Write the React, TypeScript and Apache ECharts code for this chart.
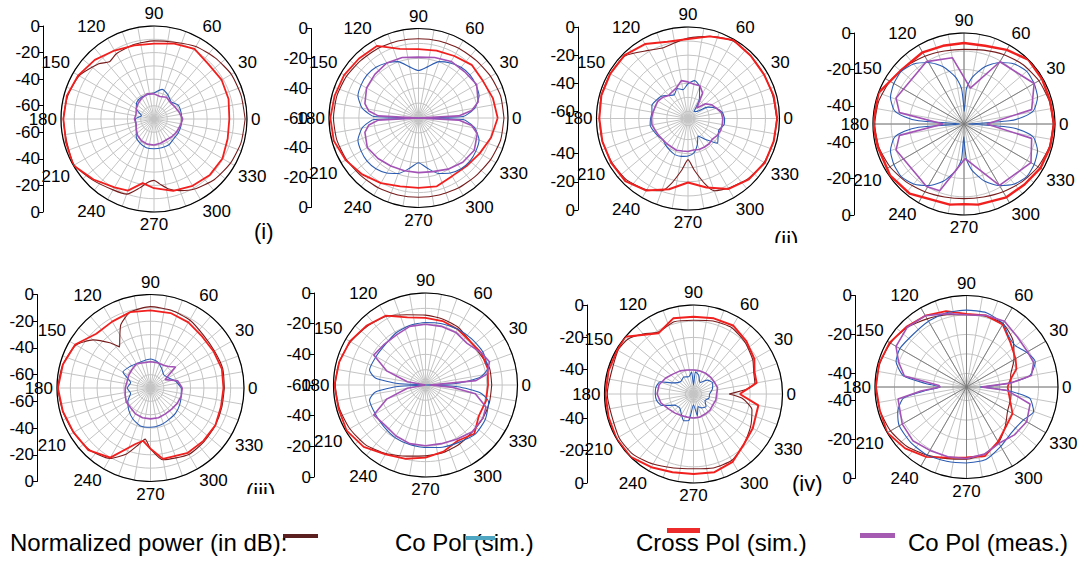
import React, { useEffect, useRef } from "react";
import * as echarts from "echarts";

const FONT = '"Liberation Sans", Arial, Helvetica, sans-serif';

// ---------- tick labels ----------
const ANGLE_LABELS = [0, 30, 60, 90, 120, 150, 180, 210, 240, 270, 300, 330];
const RADIAL_LABELS = [0, -20, -40, -60];
const PANEL_TAGS = ["(i)", "(ii)", "(iii)", "(iv)"];
const LEGEND_TITLE = "Normalized power (in dB):";
const LEGEND_NAMES = ["Co Pol (sim.)", "Cross Pol (sim.)", "Co Pol (meas.)"];

// ---------- common angle grids (deg) ----------
const ANG15 = [0, 15, 30, 45, 60, 75, 90, 105, 120, 135, 150, 165, 180, 195, 210, 225, 240, 255, 270, 285, 300, 315, 330, 345];
const ANG10 = [0, 10, 20, 30, 40, 50, 60, 70, 80, 90, 100, 110, 120, 130, 140, 150, 160, 170, 180, 190, 200, 210, 220, 230, 240, 250, 260, 270, 280, 290, 300, 310, 320, 330, 340, 350];

// ---------- panel 1 (dB) ----------
const p1MaroonAng = [0, 15, 30, 45, 60, 75, 90, 105, 120, 128, 135, 150, 165, 180, 195, 210, 225, 240, 250, 258, 265, 270, 275, 282, 290, 300, 315, 330, 345];
const p1MaroonDb = [-1.4, -2.1, -2.8, -4.9, -7, -10.2, -11.2, -11.9, -13.3, -15.4, -11.2, -4.9, -2.8, -1.8, -2.1, -0.7, -4.9, -8.4, -9.8, -16.8, -22.4, -23.8, -21, -16.1, -12.6, -9.1, -5.6, -3.5, -2.1];
const p1RedAng = [0, 15, 30, 45, 60, 75, 90, 105, 120, 135, 150, 165, 180, 195, 210, 225, 240, 250, 260, 270, 285, 300, 315, 330, 345];
const p1RedDb = [-13.3, -11.9, -11.2, -11.9, -9.1, -11.2, -13.3, -12.6, -10.5, -7, -4.2, -2.1, -1.8, -1.4, 0, -5.6, -10.5, -12.6, -21, -17.9, -14, -11.9, -10.5, -10.5, -12.6];
const p1BlueDb = [-49, -49, -49, -51.8, -49, -46.9, -50.4, -51.1, -51.1, -51.8, -54.6, -60.2, -56, -56, -54.6, -51.1, -49, -47.6, -47.6, -47.6, -47.6, -49, -49, -49];
const p1PurpleDb = [-48.3, -50.4, -51.8, -52.5, -51.1, -52.5, -51.1, -50.4, -51.8, -53.2, -54.6, -56, -55.3, -56, -54.6, -52.5, -51.1, -50.4, -50.4, -51.1, -51.8, -51.1, -50.4, -49.7];

// ---------- panel 2 ----------
const p2MaroonDb = [-2.7, -3, -4.2, -5.4, -6, -6.6, -6.9, -6.6, -6, -5.4, -4.2, -3.3, -3, -3.3, -4.2, -5.4, -6, -6.6, -6.9, -6.6, -6, -5.4, -4.2, -3];
const p2RedDb = [-6.9, -8.4, -10.2, -9.6, -12, -13.2, -13.8, -12, -4.2, -3.6, -2.4, -1.8, -0.9, -1.2, -3.6, -6.6, -9.6, -12.6, -13.2, -12.6, -15, -14.4, -12.6, -9.6];
const p2BlueAng = [0, 2, 5, 10, 20, 30, 40, 50, 60, 70, 80, 90, 100, 110, 120, 130, 140, 150, 160, 170, 175, 178, 180, 182, 185, 190, 200, 210, 220, 230, 240, 250, 260, 270, 280, 290, 300, 310, 320, 330, 340, 350, 355, 358];
const p2BlueDb = [-60, -30, -26.4, -21.6, -16.8, -15.6, -15, -15.6, -17.4, -19.8, -25.2, -28.2, -25.2, -19.8, -17.4, -15.6, -15, -15.6, -16.8, -21.6, -26.4, -30, -60, -30, -26.4, -21.6, -16.8, -15.6, -15, -15.6, -17.4, -20.4, -25.8, -30, -25.8, -20.4, -17.4, -15.6, -15, -15.6, -16.8, -21.6, -26.4, -30];
const p2PurpleAng = [0, 3, 8, 15, 30, 45, 60, 75, 90, 105, 120, 135, 150, 165, 172, 177, 180, 183, 188, 195, 210, 225, 240, 255, 270, 285, 300, 315, 330, 345, 352, 357];
const p2PurpleDb = [-60, -33, -24, -18.6, -15, -16.2, -16.2, -18, -19.2, -18, -17.4, -18.6, -19.8, -22.8, -26.4, -33, -60, -33, -26.4, -22.8, -20.4, -21.6, -22.8, -23.4, -23.4, -22.8, -20.4, -18, -16.8, -19.2, -24, -33];

// ---------- panel 3 ----------
const p3MaroonAng = [0, 15, 30, 45, 60, 75, 90, 100, 110, 120, 135, 150, 165, 180, 195, 210, 225, 240, 250, 255, 263, 270, 277, 285, 290, 300, 315, 330, 345];
const p3MaroonDb = [-2, -2.6, -2.6, -2, -1.3, -4.6, -7.8, -10.4, -11.7, -9.1, -2, -1.3, -1.3, -2, -2, -2.6, -3.3, -6.5, -10.4, -16.3, -28, -35.8, -28, -16.3, -10.4, -7.8, -4.6, -2.6, -2];
const p3RedDb = [-1.6, -2, -2.6, -2, -0.7, -4.6, -8.5, -8.5, -3.9, -1.3, -1.3, -1.3, -2, -2, -2, -2, -5.9, -13, -19.5, -14.3, -7.2, -3.9, -2, -2];
const p3BlueDb = [-39, -40.3, -43.6, -48.8, -57.2, -58.5, -48.8, -41, -37.7, -40.3, -44.2, -42.3, -45.5, -43.6, -40.3, -39, -37.7, -39, -38.4, -37.7, -39, -40.3, -41.6, -40.3, -39, -37.7, -37.7, -38.4, -40.3, -45.5, -50.7, -45.5, -37.7, -40.3, -41.6, -39];
const p3PurpleDb = [-40.3, -41, -43.6, -45.5, -48.8, -55.3, -44.2, -40.3, -40.3, -39, -37.7, -41.6, -42.9, -43.6, -41.6, -40.3, -40.3, -39.7, -39, -39, -40.3, -41, -41.6, -41.6, -41.6, -41, -41.6, -41.6, -42.3, -41.6, -41.6, -41.6, -42.3, -41, -40.3, -40.3];

// ---------- panel 4 ----------
const p4MaroonDb = [-1, -1.5, -2.5, -4, -6, -8, -9, -8.5, -7, -5, -3, -1.5, -1, -1.5, -3, -5, -7, -8.5, -9, -8.5, -7, -5, -3, -1.5];
const p4RedAng = [0, 15, 30, 45, 60, 75, 90, 105, 120, 140, 160, 180, 195, 215, 232, 260, 270, 280, 300, 315, 330, 345];
const p4RedDb = [-0.5, -1, -0.5, 0, -3, -5.5, -5.5, -5.5, -4.5, -4.5, 0, 0, -1, -0.5, -1.5, -5, -6, -5, -3.5, -3, -1.5, -1];
const p4BlueAng = [0, 4, 7, 11, 20, 30, 40, 50, 60, 70, 80, 86, 89, 91, 94, 100, 110, 120, 130, 140, 150, 160, 169, 173, 176, 180, 184, 187, 191, 200, 210, 220, 230, 240, 250, 260, 266, 269, 271, 274, 280, 290, 300, 310, 320, 330, 340, 349, 353, 356];
const p4BlueDb = [-47.5, -25, -17, -11, -7, -5.5, -5, -7, -11, -16.5, -24, -30.5, -43, -43, -30.5, -24, -16.5, -11, -7, -5, -5.5, -7, -11, -17, -25, -47.5, -25, -17, -11, -7, -5.5, -5, -7, -11, -16.5, -24, -30.5, -43, -43, -30.5, -24, -16.5, -11, -7, -5, -5.5, -7, -11, -17, -25];
const p4PurpleAng = [0, 12, 30, 60, 80, 100, 121, 159, 170, 180, 190, 201, 239, 250, 272, 300, 330, 348];
const p4PurpleDb = [-37.5, -12, -5.5, -10.5, -30, -13, -10, -10, -14, -38.5, -14, -10, -10, -11, -31, -11, -7.5, -12];

// ---------- panel 5 ----------
const p5MaroonAng = [0, 15, 30, 45, 60, 75, 90, 105, 115, 122, 127, 132, 140, 150, 165, 180, 195, 210, 225, 240, 250, 258, 264, 270, 280, 300, 315, 330, 345];
const p5MaroonDb = [-14.7, -14, -14.7, -14, -11.2, -9.8, -9.1, -11.2, -17.5, -26.6, -31.5, -24.5, -14, -5.6, -2.1, -0.7, -2.1, -3.5, -4.9, -9.1, -17.5, -26.6, -31.5, -24.5, -15.4, -12.6, -13.3, -14, -14.7];
const p5RedAng = [0, 15, 30, 45, 60, 75, 90, 105, 120, 135, 150, 165, 180, 195, 210, 225, 240, 255, 262, 270, 280, 300, 315, 330, 345];
const p5RedDb = [-15.4, -14.7, -15.4, -15.4, -13.3, -11.9, -11.9, -11.2, -12.6, -12.6, -4.9, -2.1, -0.7, -2.1, -3.5, -4.2, -9.8, -26.6, -30.1, -24.5, -16.1, -14, -14, -14, -15.4];
const p5BlueDb = [-46.9, -50.4, -54.6, -56, -53.2, -49.7, -48.3, -49, -49, -47.6, -46.2, -54.6, -52.5, -54.6, -50.4, -46.9, -43.4, -40.6, -40.6, -41.3, -42.7, -43.4, -44.8, -46.2];
const p5PurpleAng = [0, 15, 30, 40, 50, 60, 75, 90, 105, 120, 135, 150, 165, 180, 195, 210, 225, 240, 255, 270, 285, 300, 315, 330, 345];
const p5PurpleDb = [-46.2, -49, -57.4, -45.5, -49, -50.4, -50.4, -50.4, -50.4, -49, -50.4, -51.1, -51.8, -51.1, -50.4, -49, -49, -47.6, -46.9, -46.9, -46.9, -47.6, -47.6, -46.9, -46.2];

// ---------- panel 6 ----------
const p6MaroonDb = [-16.8, -16.8, -19.2, -19.2, -16.8, -15.6, -14.4, -12.6, -8.4, -6, -3.6, -1.8, -1.2, -1.8, -3, -4.8, -8.4, -12, -13.8, -14.4, -15.6, -16.8, -16.8, -16.8];
const p6RedDb = [-19.2, -18, -18, -19.2, -18, -16.8, -16.2, -14.4, -7.8, -5.4, -3, -1.8, -0.6, -1.2, -0.6, -3, -7.8, -10.2, -12.6, -15, -18, -15, -19.8, -19.2];
const p6BlueAng = [0, 3, 8, 15, 30, 45, 60, 75, 90, 105, 120, 135, 150, 165, 172, 177, 180, 183, 188, 195, 210, 225, 240, 255, 270, 285, 300, 315, 330, 345, 352, 357];
const p6BlueDb = [-60, -39, -24, -18, -16.8, -17.4, -18, -18.6, -19.2, -19.8, -21, -22.8, -22.8, -22.2, -27, -42, -60, -42, -27, -22.2, -22.2, -21.6, -20.4, -19.8, -19.2, -18, -16.8, -14.4, -15, -17.4, -24, -39];
const p6PurpleAng = [0, 5, 10, 20, 30, 45, 60, 75, 90, 105, 120, 135, 150, 160, 170, 180, 190, 200, 210, 225, 240, 255, 270, 285, 300, 315, 330, 340, 350, 355];
const p6PurpleDb = [-57, -27, -19.2, -15.6, -18, -21.6, -20.4, -20.4, -20.4, -20.4, -22.2, -22.2, -21, -33, -48, -60, -48, -33, -21, -22.8, -21.6, -20.4, -20.4, -20.4, -19.2, -16.8, -16.8, -18, -27, -42];

// ---------- panel 7 ----------
const p7MaroonAng = [0, 5, 10, 20, 30, 45, 60, 75, 90, 105, 120, 130, 140, 150, 180, 210, 225, 240, 255, 270, 285, 300, 315, 330, 345, 355];
const p7MaroonDb = [-33, -22, -16.5, -15.4, -12.7, -9.9, -7.7, -8.3, -9.4, -8.8, -11, -6.6, -2.2, -1.1, -1.7, -1.7, -2.2, -5, -7.7, -8.8, -7.7, -7.7, -11, -14.3, -17.6, -24.8];
const p7RedAng = [0, 10, 20, 30, 45, 60, 75, 90, 105, 120, 140, 150, 165, 180, 195, 210, 225, 240, 255, 270, 285, 300, 315, 330, 350];
const p7RedDb = [-26.4, -15.4, -14.9, -11.6, -8.8, -6.1, -6.6, -7.2, -6.6, -11.6, 0, -0.6, -0.6, -0.6, -0.6, 0, 0, -2.8, -5, -5.5, -5, -6.6, -11, -12.7, -14.3];
const p7BlueAng = [0, 15, 30, 45, 60, 75, 85, 90, 95, 105, 120, 135, 150, 160, 170, 180, 190, 200, 210, 225, 240, 250, 260, 270, 280, 290, 300, 315, 330, 345];
const p7BlueDb = [-45.1, -42.9, -41.3, -42.9, -46.8, -42.9, -41.3, -49.5, -41.3, -44, -42.9, -44, -41.3, -33, -31.4, -31.4, -31.9, -34.1, -41.3, -42.9, -40.2, -37.4, -38.5, -48.4, -41.3, -46.8, -45.1, -44, -46.8, -45.1];
const p7PurpleDb = [-40.7, -39.6, -40.2, -40.2, -40.2, -40.2, -40.2, -39.6, -38.5, -37.4, -35.2, -33, -32.5, -34.1, -36.9, -38.5, -39.6, -40.2, -40.2, -40.2, -40.7, -40.7, -41.3, -40.7];

// ---------- panel 8 ----------
const p8MaroonDb = [-24, -23.5, -18.8, -13.2, -9.4, -9.4, -9.9, -8.5, -6.6, -3.8, -1.9, -0.9, -0.5, -0.9, -1.9, -3.8, -6.6, -8.9, -9.9, -11.3, -14.1, -18.8, -22.6, -23.5];
const p8RedAng = [0, 10, 20, 30, 45, 60, 75, 90, 105, 120, 135, 150, 165, 180, 195, 210, 225, 240, 255, 270, 285, 300, 315, 330, 345];
const p8RedDb = [-25.9, -24, -19.7, -17.9, -15, -9.9, -8.9, -9.4, -6.6, -4.7, -3.3, -1.4, -0.5, -0.5, -0.9, 0, -2.4, -5.6, -9.4, -10.8, -10.3, -14.6, -18.3, -19.7, -24];
const p8BlueAng = [0, 5, 10, 20, 30, 40, 50, 60, 75, 90, 105, 120, 135, 150, 160, 170, 175, 180, 185, 190, 200, 210, 225, 240, 255, 270, 285, 300, 315, 330, 340, 350, 355];
const p8BlueDb = [-40, -25.9, -14.1, -9.4, -11.3, -14.1, -13.2, -9.4, -7.5, -7.5, -7.5, -8, -8.5, -7.5, -8.5, -14.1, -25.9, -33.4, -25.9, -14.1, -9.4, -7.1, -6.6, -6.6, -7.5, -8, -8.5, -11.8, -14.1, -13.2, -10.3, -14.1, -25.9];
const p8PurpleAng = [0, 5, 10, 20, 30, 45, 60, 75, 90, 105, 120, 135, 150, 160, 170, 177, 180, 185, 190, 210, 225, 240, 255, 270, 285, 300, 315, 330, 345, 355];
const p8PurpleDb = [-39.5, -24.4, -13.2, -10.3, -10.8, -10.3, -8, -8.9, -9.9, -8, -4.7, -3.8, -5.2, -9.9, -14.6, -32.9, -33.4, -23.5, -11.3, -8.9, -8, -9.4, -9.9, -10.3, -11.3, -13.6, -12.2, -11.3, -13.2, -25.9];

// ---------- colours ----------
const C_MAROON = "#771c1c";
const C_RED = "#f11f1d";
const C_BLUE = "#2b5cb3";
const C_PURPLE = "#a352b6";
const C_GRID = "#c4c4c4";

// ---------- layout (positions only) ----------
type Curve = [number[], number[]];
const PANELS: { cx: number; cy: number; r: number; ax: number; floor: number; dark: boolean; redW: number; maroon: Curve; red: Curve; blue: Curve; purple: Curve }[] = [
  { cx: 154, cy: 119, r: 93, ax: 43, floor: -70, dark: false, redW: 1.8, maroon: [p1MaroonAng, p1MaroonDb], red: [p1RedAng, p1RedDb], blue: [ANG15, p1BlueDb], purple: [ANG15, p1PurpleDb] },
  { cx: 418.5, cy: 118, r: 89.5, ax: 311, floor: -60, dark: false, redW: 1.8, maroon: [ANG15, p2MaroonDb], red: [ANG15, p2RedDb], blue: [p2BlueAng, p2BlueDb], purple: [p2PurpleAng, p2PurpleDb] },
  { cx: 688, cy: 118.5, r: 91.5, ax: 578, floor: -65, dark: false, redW: 2, maroon: [p3MaroonAng, p3MaroonDb], red: [ANG15, p3RedDb], blue: [ANG10, p3BlueDb], purple: [ANG10, p3PurpleDb] },
  { cx: 964, cy: 124, r: 91, ax: 854, floor: -50, dark: true, redW: 2.4, maroon: [ANG15, p4MaroonDb], red: [p4RedAng, p4RedDb], blue: [p4BlueAng, p4BlueDb], purple: [p4PurpleAng, p4PurpleDb] },
  { cx: 150.5, cy: 388, r: 93.5, ax: 37, floor: -70, dark: false, redW: 1.8, maroon: [p5MaroonAng, p5MaroonDb], red: [p5RedAng, p5RedDb], blue: [ANG15, p5BlueDb], purple: [p5PurpleAng, p5PurpleDb] },
  { cx: 425.5, cy: 385, r: 92, ax: 314, floor: -60, dark: false, redW: 1.8, maroon: [ANG15, p6MaroonDb], red: [ANG15, p6RedDb], blue: [p6BlueAng, p6BlueDb], purple: [p6PurpleAng, p6PurpleDb] },
  { cx: 693.5, cy: 394, r: 89, ax: 587, floor: -55, dark: false, redW: 2, maroon: [p7MaroonAng, p7MaroonDb], red: [p7RedAng, p7RedDb], blue: [p7BlueAng, p7BlueDb], purple: [ANG15, p7PurpleDb] },
  { cx: 966.5, cy: 387, r: 91.5, ax: 855, floor: -47, dark: true, redW: 1.8, maroon: [ANG15, p8MaroonDb], red: [p8RedAng, p8RedDb], blue: [p8BlueAng, p8BlueDb], purple: [p8PurpleAng, p8PurpleDb] },
];

function closed(c: Curve) {
  const [ang, db] = c;
  const pts = ang.map((a, i) => [db[i], a]);
  pts.push([db[0], 360]);
  return pts;
}

function buildOption() {
  const polar: any[] = [];
  const angleAxis: any[] = [];
  const radiusAxis: any[] = [];
  const grid: any[] = [];
  const xAxis: any[] = [];
  const yAxis: any[] = [];
  const series: any[] = [];

  PANELS.forEach((p, i) => {
    const A = -p.floor;
    polar.push({ center: [p.cx, p.cy], radius: p.r });
    angleAxis.push({
      polarIndex: i, type: "value", min: 0, max: 360, interval: 10, startAngle: 0, clockwise: false,
      axisLine: { show: true, lineStyle: { color: "#000", width: 1.2 } },
      axisTick: { show: false },
      axisLabel: {
        show: true, margin: 4, fontSize: 17, fontFamily: FONT, color: "#000",
        formatter: (v: number) => (ANGLE_LABELS.indexOf(v) >= 0 ? String(v) : ""),
      },
      splitLine: { show: true, lineStyle: { color: C_GRID, width: 1 } },
    });
    radiusAxis.push({
      polarIndex: i, type: "value", min: p.floor, max: 0, splitNumber: Math.ceil(A / 10),
      axisLine: { show: false }, axisTick: { show: false }, axisLabel: { show: false },
      splitLine: { show: true, lineStyle: { color: C_GRID, width: 1 } },
    });

    const vals: number[] = [];
    RADIAL_LABELS.filter((d) => d >= p.floor).forEach((d) => { vals.push(A + d); vals.push(-(A + d)); });
    grid.push({ left: p.ax, top: p.cy - p.r, width: 1, height: 2 * p.r });
    xAxis.push({ gridIndex: i, type: "value", show: false, min: 0, max: 1 });
    yAxis.push({
      gridIndex: i, type: "value", min: -A, max: A, position: "left",
      axisLine: { show: true, onZero: false, lineStyle: { color: "#000", width: 1 } },
      axisTick: { show: true, customValues: vals, length: 4, lineStyle: { color: "#000" } },
      axisLabel: {
        show: true, customValues: vals, margin: 3, fontSize: 17, fontFamily: FONT, color: "#000",
        formatter: (v: number) => String(Math.round(Math.abs(v) - A)),
      },
      splitLine: { show: false },
    });

    const mk = (c: Curve, color: string, width: number, smooth: number | boolean, z: number) => ({
      type: "line", coordinateSystem: "polar", polarIndex: i, data: closed(c),
      showSymbol: false, symbol: "none", smooth, clip: false, silent: true, z,
      lineStyle: { color, width },
    });
    series.push(mk(p.maroon, C_MAROON, 1.1, 0.2, 3));
    series.push(mk(p.red, C_RED, p.redW, false, 4));
    series.push(mk(p.blue, C_BLUE, 1.1, 0.2, 5));
    series.push(mk(p.purple, C_PURPLE, 1.6, false, 6));
  });

  // darker 30-degree spokes on panels 4 and 8
  PANELS.forEach((p) => {
    if (!p.dark) return;
    const k = polar.length;
    polar.push({ center: [p.cx, p.cy], radius: p.r });
    angleAxis.push({
      polarIndex: k, type: "value", min: 0, max: 360, interval: 30, startAngle: 0, clockwise: false,
      axisLine: { show: false }, axisTick: { show: false }, axisLabel: { show: false },
      splitLine: { show: true, lineStyle: { color: "#777", width: 0.9 } },
    });
    radiusAxis.push({
      polarIndex: k, type: "value", min: p.floor, max: 0,
      axisLine: { show: false }, axisTick: { show: false }, axisLabel: { show: false }, splitLine: { show: false },
    });
  });

  const txt = (text: string, x: number, y: number, size: number) => ({
    type: "text", z: 100,
    style: { text, x, y, font: `${size}px ${FONT}`, fill: "#000", verticalAlign: "top", textVerticalAlign: "top" },
  });
  const bar = (x: number, y: number, w: number, h: number, fill: string) => ({
    type: "rect", z: 101, shape: { x, y, width: w, height: h }, style: { fill },
  });

  const graphic: any[] = [
    txt(PANEL_TAGS[0], 254, 220, 22),
    txt(PANEL_TAGS[1], 774, 228, 22),
    txt(PANEL_TAGS[2], 246, 480, 22),
    txt(PANEL_TAGS[3], 792, 472, 22),
    { type: "rect", z: 102, shape: { x: 768, y: 243, width: 45, height: 10 }, style: { fill: "#fff" } },
    { type: "rect", z: 102, shape: { x: 240, y: 494, width: 45, height: 10 }, style: { fill: "#fff" } },
    txt(LEGEND_TITLE, 10, 530, 24),
    txt(LEGEND_NAMES[0], 395, 530, 24),
    txt(LEGEND_NAMES[1], 636, 530, 24),
    txt(LEGEND_NAMES[2], 908, 530, 24),
    bar(283, 534, 35, 4, "#5b1f1f"),
    bar(465, 536, 30, 4, "#4fa6c2"),
    bar(667, 528, 33, 5, "#ee2b2b"),
    bar(860, 533, 35, 5, "#a55bb2"),
  ];

  return {
    animation: false,
    backgroundColor: "#fff",
    polar, angleAxis, radiusAxis, grid, xAxis, yAxis, series, graphic,
  };
}

export default function App() {
  const ref = useRef<HTMLDivElement>(null);
  useEffect(() => {
    document.body.style.margin = "0";
    const chart = echarts.init(ref.current!, null, { renderer: "svg" });
    chart.setOption(buildOption() as any);
    return () => chart.dispose();
  }, []);
  return <div ref={ref} style={{ width: 1083, height: 565, background: "#fff" }} />;
}
